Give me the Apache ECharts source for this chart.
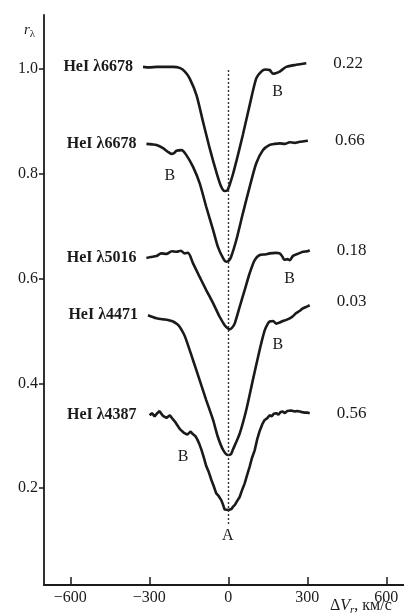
<!DOCTYPE html>
<html><head><meta charset="utf-8">
<script src="https://cdn.jsdelivr.net/npm/echarts@6/dist/echarts.min.js"></script>
<style>html,body{margin:0;padding:0;background:#fff}#c{width:404px;height:616px}</style>
</head><body><div id="c"></div>
<script>
// Velocity ΔV (km/s) and residual intensity r_λ for each line profile
const curve1 = [[-324,1.004],[-300,1.003],[-270,1.004],[-240,1.004],[-210,1.004],[-185,1.002],[-165,0.995],[-147,0.982],[-121,0.950],[-96,0.899],[-71,0.849],[-46,0.804],[-27,0.775],[-14,0.767],[-4,0.768],[5,0.779],[18,0.800],[30,0.823],[55,0.874],[81,0.931],[106,0.982],[125,0.995],[140,0.999],[157,0.998],[169,0.991],[180,0.992],[195,0.995],[220,1.004],[258,1.008],[296,1.011]];
const curve2 = [[-311,0.857],[-290,0.856],[-273,0.855],[-248,0.849],[-230,0.842],[-216,0.838],[-205,0.840],[-197,0.844],[-178,0.845],[-160,0.836],[-134,0.813],[-109,0.782],[-84,0.737],[-58,0.693],[-40,0.661],[-20,0.639],[-8,0.632],[2,0.634],[11,0.642],[30,0.673],[55,0.724],[81,0.775],[106,0.820],[131,0.845],[157,0.855],[176,0.857],[195,0.858],[214,0.857],[233,0.860],[252,0.859],[271,0.861],[288,0.862],[302,0.863]];
const curve3 = [[-311,0.639],[-295,0.641],[-273,0.643],[-255,0.648],[-235,0.647],[-215,0.652],[-197,0.651],[-180,0.653],[-166,0.648],[-153,0.649],[-134,0.629],[-109,0.603],[-84,0.578],[-58,0.553],[-33,0.527],[-14,0.511],[0,0.504],[5,0.503],[14,0.506],[24,0.514],[43,0.546],[62,0.578],[81,0.610],[100,0.635],[119,0.645],[140,0.646],[157,0.648],[180,0.649],[195,0.648],[205,0.642],[212,0.636],[225,0.637],[233,0.635],[245,0.643],[252,0.645],[268,0.648],[283,0.651],[300,0.652],[309,0.654]];
const curve4 = [[-305,0.530],[-290,0.527],[-273,0.524],[-248,0.522],[-230,0.521],[-210,0.518],[-195,0.513],[-185,0.508],[-170,0.495],[-160,0.483],[-134,0.444],[-109,0.406],[-84,0.368],[-58,0.330],[-40,0.298],[-20,0.273],[-1,0.263],[10,0.265],[17,0.273],[43,0.304],[68,0.349],[93,0.406],[119,0.464],[138,0.501],[150,0.514],[157,0.518],[170,0.519],[182,0.514],[195,0.516],[207,0.519],[220,0.521],[233,0.524],[245,0.528],[258,0.534],[270,0.538],[283,0.543],[296,0.546],[309,0.549]];
const curve5 = [[-299,0.339],[-290,0.343],[-280,0.337],[-270,0.343],[-261,0.347],[-255,0.342],[-248,0.338],[-242,0.341],[-235,0.334],[-228,0.336],[-222,0.339],[-216,0.336],[-210,0.331],[-203,0.327],[-197,0.324],[-190,0.317],[-183,0.312],[-176,0.310],[-170,0.306],[-163,0.306],[-156,0.302],[-150,0.305],[-143,0.308],[-137,0.304],[-131,0.303],[-125,0.299],[-118,0.293],[-110,0.284],[-102,0.273],[-93,0.258],[-84,0.242],[-74,0.230],[-64,0.215],[-55,0.203],[-46,0.190],[-37,0.185],[-27,0.177],[-20,0.168],[-14,0.159],[-7,0.156],[0,0.158],[5,0.156],[12,0.160],[17,0.164],[25,0.168],[33,0.175],[43,0.183],[52,0.196],[62,0.209],[72,0.226],[81,0.241],[90,0.258],[100,0.272],[110,0.294],[119,0.309],[129,0.322],[138,0.330],[147,0.333],[157,0.339],[165,0.337],[173,0.342],[182,0.343],[190,0.340],[198,0.345],[207,0.346],[215,0.343],[223,0.347],[230,0.344],[238,0.348],[245,0.348],[253,0.346],[262,0.347],[271,0.346],[280,0.345],[290,0.344],[300,0.344],[309,0.343]];

const lineNames = ['HeI λ6678','HeI λ6678','HeI λ5016','HeI λ4471','HeI λ4387'];
const phases = ['0.22','0.66','0.18','0.03','0.56'];
const curves = [curve1, curve2, curve3, curve4, curve5];
// "B" component marks (velocity, r) and "A" mark
const bMarks = [[187,0.956],[-222,0.797],[233,0.600],[188,0.473],[-172,0.259]];
const aMark = [-2,0.108];
const xTicks = [-600,-300,0,300,600];
const yTicks = [0.2,0.4,0.6,0.8,1.0];

const FONT = '"Liberation Serif","DejaVu Serif",serif';
const INK = '#1a1a1a';

const chart = echarts.init(document.getElementById('c'), null, {renderer:'canvas'});

const series = curves.map((c, i) => ({
  type: 'line',
  data: c,
  showSymbol: false,
  smooth: i === 4 ? false : 0.25,
  lineStyle: {color: INK, width: 2.6},
  animation: false,
  silent: true,
  endLabel: {
    show: true, formatter: phases[i], distance: 27,
    color: INK, fontFamily: FONT, fontSize: 17,
    offset: i === 3 ? [0,-4] : [0,0]
  },
  markPoint: {
    symbol: 'circle', symbolSize: 0, silent: true, animation: false,
    data: [
      {coord: c[0], label: {show: true, position: 'left', distance: i === 4 ? 13 : 10, formatter: lineNames[i], color: INK, fontFamily: FONT, fontSize: 16, fontWeight: 'bold'}},
      {coord: bMarks[i], label: {show: true, position: 'inside', formatter: 'B', color: INK, fontFamily: FONT, fontSize: 16}}
    ].concat(i === 4 ? [{coord: aMark, label: {show: true, position: 'inside', formatter: 'A', color: INK, fontFamily: FONT, fontSize: 16}}] : [])
  },
  markLine: i === 0 ? {
    symbol: 'none', silent: true, animation: false,
    label: {show: false},
    lineStyle: {type: [2,2], color: '#333', width: 1.4},
    data: [[{coord: [0, 0.998]}, {coord: [0, 0.128]}]]
  } : undefined
}));

chart.setOption({
  backgroundColor: '#ffffff',
  animation: false,
  grid: {left: 44, right: 0, top: 15, bottom: 31, containLabel: false},
  xAxis: {
    type: 'value', min: -700, max: 667,
    axisLine: {show: true, onZero: false, lineStyle: {color: INK, width: 1.8}},
    axisTick: {show: true, inside: true, length: 8, customValues: xTicks, lineStyle: {color: INK, width: 1.5}},
    axisLabel: {customValues: xTicks, margin: 5, color: INK, fontFamily: FONT, fontSize: 16,
      formatter: v => String(v).replace('-', '\u2212')},
    splitLine: {show: false}
  },
  yAxis: {
    type: 'value', min: 0.015, max: 1.103,
    axisLine: {show: true, onZero: false, lineStyle: {color: INK, width: 1.8}},
    axisTick: {show: true, inside: false, length: 5, customValues: yTicks, lineStyle: {color: INK, width: 1.5}},
    axisLabel: {customValues: yTicks, margin: 6, color: INK, fontFamily: FONT, fontSize: 16,
      formatter: v => v.toFixed(1)},
    splitLine: {show: false}
  },
  graphic: [
    {type: 'text', left: 24, top: 23, style: {
      text: '{r|r}{s|λ}', rich: {
        r: {fontFamily: FONT, fontStyle: 'italic', fontSize: 15, fill: INK},
        s: {fontFamily: FONT, fontSize: 11, fill: INK, padding: [8,0,0,0]}
      }}},
    {type: 'text', left: 330, top: 598, style: {
      text: '{n|Δ}{i|V}{s|r}{n|, км/с}', rich: {
        n: {fontFamily: FONT, fontSize: 16, fill: INK},
        i: {fontFamily: FONT, fontStyle: 'italic', fontSize: 16, fill: INK},
        s: {fontFamily: FONT, fontStyle: 'italic', fontSize: 11, fill: INK, padding: [8,0,0,0]}
      }}}
  ],
  series: series
});
</script></body></html>
